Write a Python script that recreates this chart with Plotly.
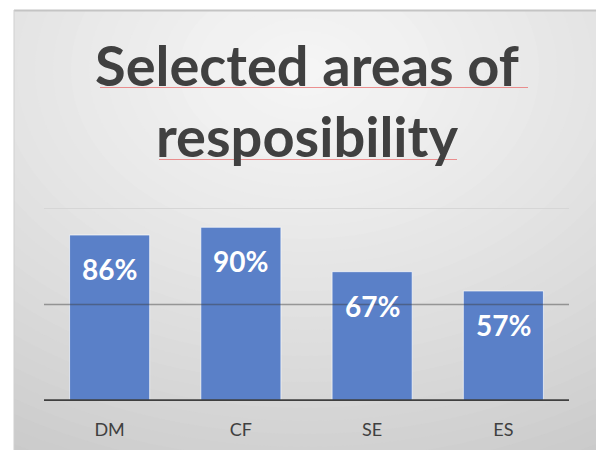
import plotly.graph_objects as go

# Share of respondents per area of responsibility
categories = ["DM", "CF", "SE", "ES"]
values = [86, 90, 67, 57]
value_labels = ["86%", "90%", "67%", "57%"]
title_lines = ["Selected areas of", "resposibility"]

W, H = 596, 450
BAR_COLOR = "#5a80c8"
TEXT_DARK = "#404040"
FONT = "Lato"


def px(x):
    return x / W


def py(y):
    return 1 - y / H


fig = go.Figure()

fig.add_trace(go.Bar(
    x=categories,
    y=values,
    marker=dict(color=BAR_COLOR, line=dict(color="rgba(255,255,255,0.65)", width=1)),
    hoverinfo="skip",
))

shapes = []

# slide background: soft radial gradient built from nested ellipses
cx, cy = 305, 70
steps = 40
for i in range(steps, 0, -1):
    t = i / steps
    rx, ry = 720 * t, 520 * t
    g = int(round(245 - (245 - 192) * t ** 1.3))
    shapes.append(dict(
        type="circle", xref="paper", yref="paper", layer="below",
        x0=px(cx - rx), x1=px(cx + rx), y0=py(cy + ry), y1=py(cy - ry),
        fillcolor=f"rgb({g},{g},{g})", line=dict(width=0),
    ))

# white page around the slide
shapes.append(dict(type="rect", xref="paper", yref="paper", layer="below",
                   x0=0, x1=px(14), y0=0, y1=1, fillcolor="white", line=dict(width=0)))
shapes.append(dict(type="rect", xref="paper", yref="paper", layer="below",
                   x0=0, x1=1, y0=py(10), y1=1, fillcolor="white", line=dict(width=0)))
# slide edges
shapes.append(dict(type="line", xref="paper", yref="paper", layer="below",
                   x0=px(14), x1=1, y0=py(10.5), y1=py(10.5),
                   line=dict(color="#c4c4c4", width=2)))
shapes.append(dict(type="line", xref="paper", yref="paper", layer="below",
                   x0=px(14), x1=px(14), y0=0, y1=py(10),
                   line=dict(color="#cfcfcf", width=1)))

# spell-check style underlines beneath the title
shapes.append(dict(type="line", xref="paper", yref="paper", layer="below",
                   x0=px(100), x1=px(528), y0=py(87.5), y1=py(87.5),
                   line=dict(color="rgba(232,110,110,0.75)", width=1)))
shapes.append(dict(type="line", xref="paper", yref="paper", layer="below",
                   x0=px(159), x1=px(457), y0=py(159.5), y1=py(159.5),
                   line=dict(color="rgba(232,110,110,0.75)", width=1)))

# gridlines
shapes.append(dict(type="line", xref="x domain", yref="y", layer="below",
                   x0=0, x1=1, y0=100, y1=100,
                   line=dict(color="#d6d6d6", width=2)))
shapes.append(dict(type="line", xref="x domain", yref="y", layer="above",
                   x0=0, x1=1, y0=50, y1=50,
                   line=dict(color="rgba(60,60,60,0.45)", width=1.5)))
# category axis baseline
shapes.append(dict(type="line", xref="x domain", yref="y", layer="above",
                   x0=0, x1=1, y0=0, y1=0,
                   line=dict(color="#3f3f3f", width=3.5)))

annotations = []
for cat, v, lab in zip(categories, values, value_labels):
    annotations.append(dict(
        x=cat, y=v, xref="x", yref="y", text=f"<b>{lab}</b>",
        showarrow=False, yanchor="top", yshift=-15,
        font=dict(family=FONT, size=28, color="white"),
    ))

for line, ybase in zip(title_lines, [87, 158]):
    annotations.append(dict(
        x=px(307), y=py(ybase + 13), xref="paper", yref="paper",
        text=f"<b>{line}</b>", showarrow=False, yanchor="bottom",
        font=dict(family=FONT, size=56, color=TEXT_DARK),
    ))

fig.update_layout(
    width=W, height=H,
    margin=dict(l=0, r=0, t=0, b=0),
    paper_bgcolor="white",
    plot_bgcolor="rgba(0,0,0,0)",
    bargap=0.39,
    showlegend=False,
    shapes=shapes,
    annotations=annotations,
    xaxis=dict(
        domain=[px(44), px(569)],
        showgrid=False, zeroline=False, showline=False,
        ticks="outside", ticklen=12, tickcolor="rgba(0,0,0,0)",
        tickfont=dict(family=FONT, size=18, color=TEXT_DARK),
    ),
    yaxis=dict(
        domain=[py(401), py(208)],
        range=[0, 100],
        showgrid=False, zeroline=False, showline=False,
        showticklabels=False,
    ),
)

fig.write_html("out.html")
